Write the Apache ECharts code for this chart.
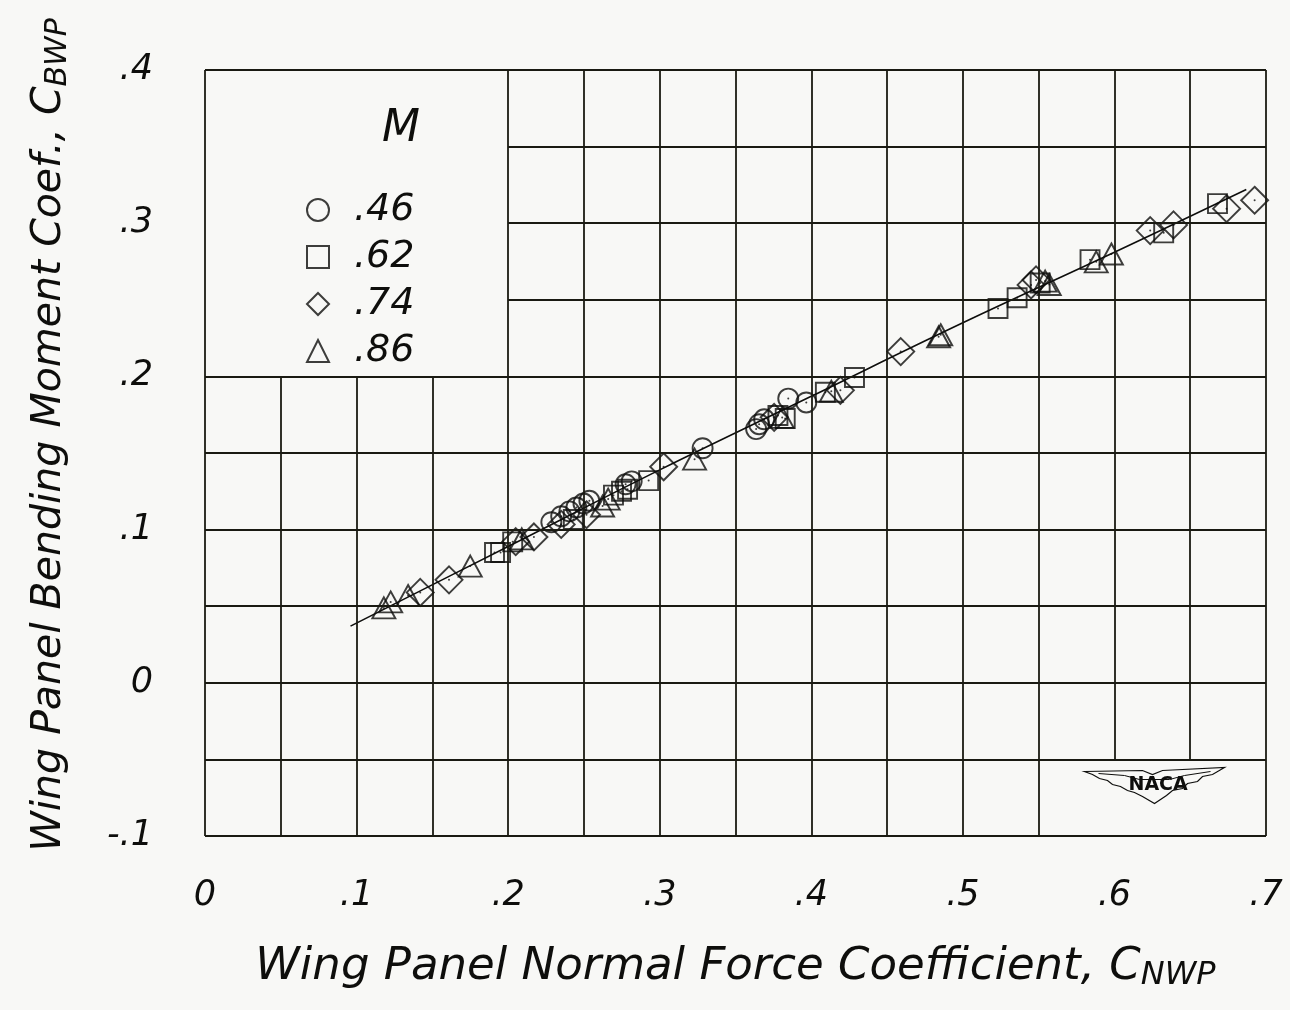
<!DOCTYPE html>
<html>
<head>
<meta charset="utf-8">
<script src="https://cdn.jsdelivr.net/npm/echarts@6/dist/echarts.min.js"></script>
<style>
  html, body { margin: 0; padding: 0; background: #f8f8f6; }
  #chart { width: 1290px; height: 1010px; }
</style>
</head>
<body>
<div id="chart"></div>
<script>
// Mach numbers (legend)
var machLabels = ['.46', '.62', '.74', '.86'];

// [C_Nwp, C_Bwp]
var pointsM46 = [
    [0.2285, 0.1048], [0.235, 0.1087], [0.2404, 0.1119], [0.245, 0.1144], [0.2497, 0.117],
    [0.2536, 0.1188], [0.2775, 0.1296], [0.2815, 0.1315], [0.3283, 0.1531], [0.3636, 0.1656],
    [0.3656, 0.1688], [0.3689, 0.172], [0.3848, 0.1855], [0.3967, 0.183]
];
var pointsM62 = [
    [0.191, 0.0851], [0.195, 0.0851], [0.203, 0.092], [0.243, 0.1066], [0.2695, 0.1225],
    [0.2748, 0.125], [0.2788, 0.1263], [0.2927, 0.132], [0.378, 0.1745], [0.3828, 0.1725],
    [0.4093, 0.1897], [0.4285, 0.1993], [0.5232, 0.2443], [0.5358, 0.2513], [0.551, 0.261],
    [0.5839, 0.2762], [0.6325, 0.2937], [0.668, 0.3128]
];
var pointsM74 = [
    [0.142, 0.059], [0.161, 0.0672], [0.205, 0.0921], [0.217, 0.0952], [0.235, 0.1034],
    [0.2517, 0.1097], [0.3026, 0.141], [0.3755, 0.1733], [0.4192, 0.1909], [0.459, 0.2162],
    [0.545, 0.2597], [0.5483, 0.263], [0.6236, 0.2952], [0.639, 0.2989], [0.674, 0.3095],
    [0.6925, 0.315]
];
var pointsM86 = [
    [0.118, 0.0489], [0.1225, 0.0528], [0.134, 0.057], [0.175, 0.0762], [0.209, 0.094],
    [0.2623, 0.1154], [0.266, 0.1199], [0.323, 0.146], [0.3808, 0.1732], [0.4132, 0.1903],
    [0.484, 0.2259], [0.4854, 0.2272], [0.5543, 0.2622], [0.557, 0.26], [0.588, 0.2748],
    [0.598, 0.2799]
];

// faired curve through the data
var fairing = [[0.096, 0.037], [0.2, 0.089], [0.3, 0.139], [0.4, 0.187], [0.5, 0.235], [0.6, 0.281], [0.687, 0.322]];

// grid lines: [value, from, to]
var vLines = [
    [0, -0.1, 0.4], [0.05, -0.1, 0.2], [0.1, -0.1, 0.2], [0.15, -0.1, 0.2], [0.2, -0.1, 0.4],
    [0.25, -0.1, 0.4], [0.3, -0.1, 0.4], [0.35, -0.1, 0.4], [0.4, -0.1, 0.4], [0.45, -0.1, 0.4],
    [0.5, -0.1, 0.4], [0.55, -0.1, 0.4], [0.6, -0.05, 0.4], [0.65, -0.05, 0.4], [0.7, -0.1, 0.4]
];
var hLines = [
    [-0.1, 0, 0.7], [-0.05, 0, 0.7], [0, 0, 0.7], [0.05, 0, 0.7], [0.1, 0, 0.7], [0.15, 0, 0.7],
    [0.2, 0, 0.7], [0.25, 0.2, 0.7], [0.3, 0.2, 0.7], [0.35, 0.2, 0.7], [0.4, 0, 0.7]
];

var INK = '#0e0e0c';
var FONT = '"DejaVu Sans ExtraLight", "DejaVu Sans", "Liberation Sans", sans-serif';

function tickFmt(v) {
    var r = Math.round(v * 10) / 10;
    if (r === 0) return '0';
    return (r < 0 ? '-' : '') + String(Math.abs(r)).replace(/^0/, '');
}

var gridSegs = [];
vLines.forEach(function (l) {
    gridSegs.push([{ coord: [l[0], l[1]] }, { coord: [l[0], l[2]] }]);
});
hLines.forEach(function (l) {
    gridSegs.push([{ coord: [l[1], l[0]] }, { coord: [l[2], l[0]] }]);
});

var symbols = ['circle', 'rect', 'diamond', 'triangle'];
var sizes = [20, 19, 27, [23, 21]];
var sets = [pointsM46, pointsM62, pointsM74, pointsM86];

var series = [];

// grid drawn as segments so the legend box and logo corner stay open
series.push({
    type: 'line',
    data: [],
    silent: true,
    markLine: {
        silent: true,
        symbol: ['none', 'none'],
        label: { show: false },
        lineStyle: { color: '#1a1a12', width: 1.8, type: 'solid' },
        emphasis: { disabled: true },
        data: gridSegs
    }
});

series.push({
    type: 'line',
    data: fairing,
    smooth: 0.4,
    showSymbol: false,
    silent: true,
    lineStyle: { color: INK, width: 1.6 },
    z: 3
});

sets.forEach(function (pts, i) {
    series.push({
        name: machLabels[i],
        type: 'scatter',
        data: pts,
        symbol: symbols[i],
        symbolSize: sizes[i],
        itemStyle: { color: 'rgba(0,0,0,0)', borderColor: INK, borderWidth: 1.9 },
        z: 4
    });
    // little centre dot on each plotted point
    series.push({
        type: 'scatter',
        data: pts,
        symbol: 'circle',
        symbolSize: 2,
        silent: true,
        itemStyle: { color: INK },
        z: 5
    });
});

var chart = echarts.init(document.getElementById('chart'));

chart.setOption({
    backgroundColor: '#f8f8f6',
    animation: false,
    grid: { left: 205, right: 24, top: 70, bottom: 174 },
    legend: {
        data: machLabels,
        orient: 'vertical',
        left: 306,
        top: 191,
        padding: 0,
        itemGap: 9,
        itemWidth: 22,
        itemHeight: 22,
        selectedMode: false,
        textStyle: {
            fontFamily: FONT, fontStyle: 'italic', fontWeight: 200,
            fontSize: 38, color: INK, lineHeight: 36, padding: [0, 0, 0, 20]
        }
    },
    graphic: [
        {
            type: 'text', left: 382, top: 108,
            style: { text: 'M', font: 'italic 200 44px ' + FONT, fill: INK }
        },
        {
            type: 'group', left: 1082, top: 765,
            children: [
                {
                    type: 'polygon',
                    shape: { points: [[0, 4], [58, 3], [68, 7], [78, 3], [140, 0], [128, 7], [118, 9], [113, 14], [103, 16], [98, 21], [88, 23], [82, 28], [70, 36], [58, 29], [50, 25], [43, 23], [36, 19], [28, 17], [23, 13], [15, 11], [8, 7]] },
                    style: { fill: 'none', stroke: INK, lineWidth: 1.2 }
                },
                {
                    type: 'polyline',
                    shape: { points: [[14, 6], [40, 8], [55, 12], [85, 12], [100, 8], [126, 4]] },
                    style: { fill: 'none', stroke: INK, lineWidth: 1 }
                },
                {
                    type: 'text', left: 44, top: 8,
                    style: { text: 'NACA', font: 'bold 19px "DejaVu Sans", sans-serif', fill: INK }
                }
            ]
        }
    ],
    xAxis: {
        type: 'value',
        min: 0,
        max: 0.7,
        interval: 0.1,
        axisLine: { show: false },
        axisTick: { show: false },
        splitLine: { show: false },
        axisLabel: {
            formatter: tickFmt,
            margin: 42,
            fontFamily: FONT, fontStyle: 'italic', fontWeight: 200,
            fontSize: 35, color: INK
        },
        name: 'Wing Panel Normal Force Coefficient, C{s|NWP}',
        nameLocation: 'middle',
        nameGap: 106,
        nameTextStyle: {
            fontFamily: FONT, fontStyle: 'italic', fontWeight: 200,
            fontSize: 45, color: INK,
            rich: {
                s: { fontFamily: FONT, fontStyle: 'italic', fontWeight: 200, fontSize: 32, color: INK, padding: [18, 0, 0, 0] }
            }
        }
    },
    yAxis: {
        type: 'value',
        min: -0.1,
        max: 0.4,
        interval: 0.1,
        axisLine: { show: false },
        axisTick: { show: false },
        splitLine: { show: false },
        axisLabel: {
            formatter: tickFmt,
            margin: 52,
            fontFamily: FONT, fontStyle: 'italic', fontWeight: 200,
            fontSize: 35, color: INK
        },
        name: 'Wing Panel Bending Moment Coef., C{s|BWP}',
        nameLocation: 'middle',
        nameGap: 132,
        nameTextStyle: {
            fontFamily: FONT, fontStyle: 'italic', fontWeight: 200,
            fontSize: 41, color: INK, padding: [0, 0, 0, 36],
            rich: {
                s: { fontFamily: FONT, fontStyle: 'italic', fontWeight: 200, fontSize: 30, color: INK, padding: [18, 0, 0, 0] }
            }
        }
    },
    series: series
});
</script>
</body>
</html>
